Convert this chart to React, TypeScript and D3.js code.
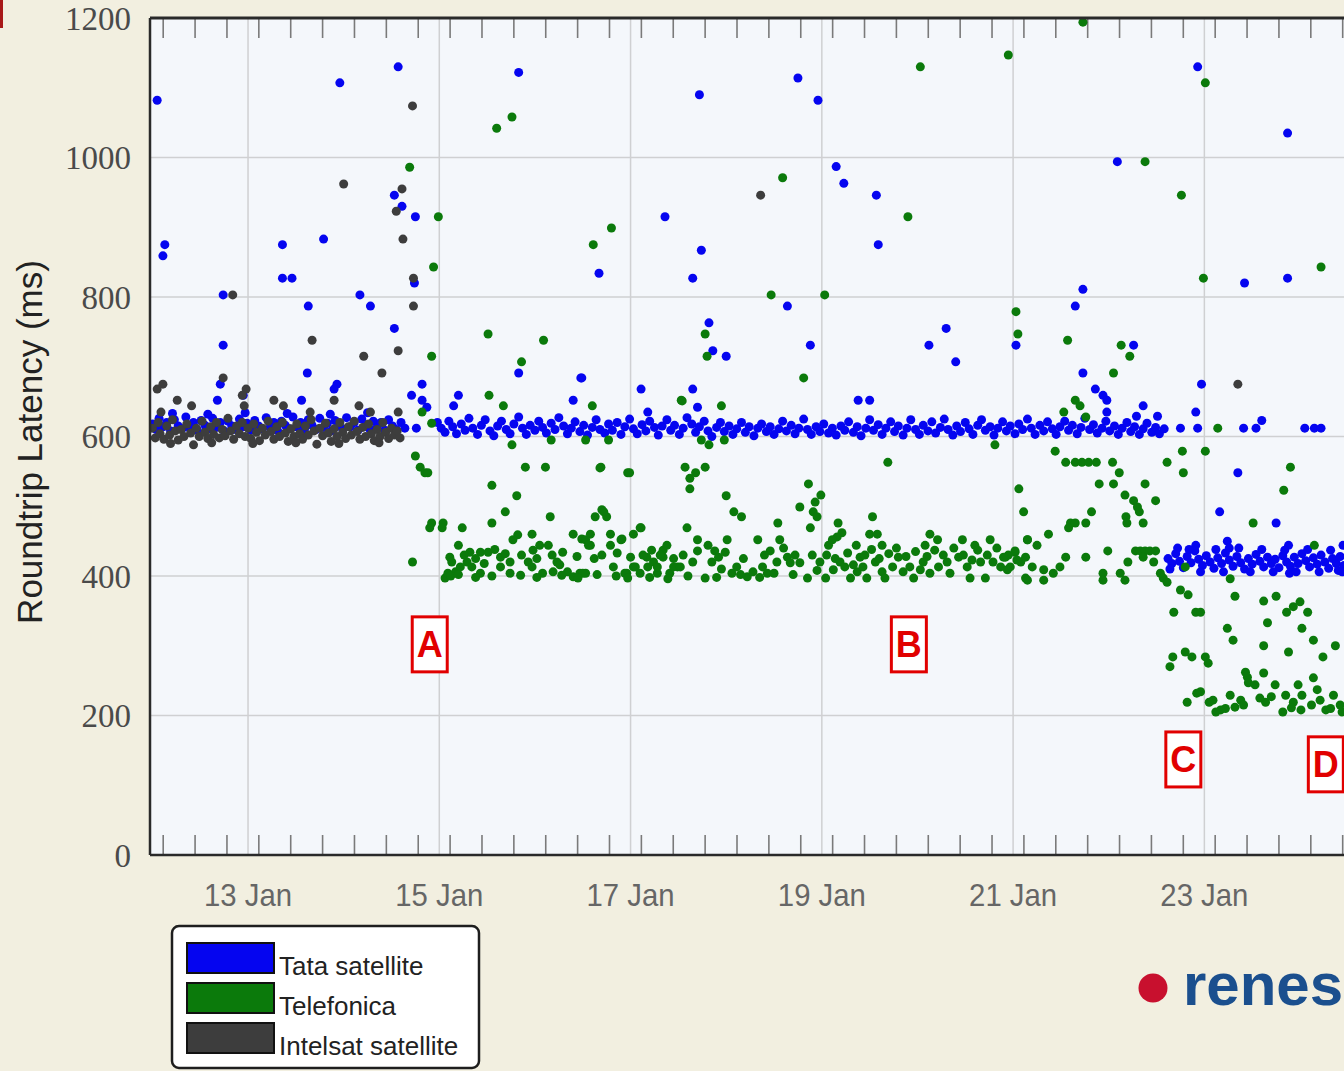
import React from "react";
import * as d3 from "d3";

const W = 1344;
const H = 1071;

type P = [number, number];

// ---- axis content ----
const yTickValues = [0, 200, 400, 600, 800, 1000, 1200];
const yGridValues = [200, 400, 600, 800, 1000];
const xLabelDays = [13, 15, 17, 19, 21, 23];
const xLabelText = ["13 Jan", "15 Jan", "17 Jan", "19 Jan", "21 Jan", "23 Jan"];
const xGridDays = [13, 15, 17, 19, 21, 23];
const minorTickStart = 12.113; // first 8-hour tick (day of January)
const minorTickStep = 1 / 3;
const xDomain: [number, number] = [11.975, 24.46];
const yDomain: [number, number] = [0, 1200];

// ---- legend ----
const seriesNames = ["Tata satellite", "Telefonica", "Intelsat satellite"];
const seriesColors = ["#0505f0", "#0b7a0b", "#3d3d3d"];

// ---- annotations ----
const annoLabels = ["A", "B", "C", "D"];
const annoDays = [14.9, 19.91, 22.78, 24.27];
const annoValues = [302, 302, 137, 130];

// ---- Tata satellite (blue) ----
const tataOutliers: P[] = [
  [12.05, 1082], [13.96, 1107], [14.57, 1130], [15.83, 1122], [12.13, 875], [12.11, 859],
  [13.36, 875], [13.79, 883], [13.36, 827], [13.46, 827], [12.74, 803], [13.63, 787],
  [14.17, 803], [14.28, 787], [14.53, 946], [14.61, 930], [14.75, 915], [14.74, 820],
  [12.74, 731], [14.53, 755], [13.62, 691], [12.71, 675], [13.93, 675], [13.9, 668],
  [12.68, 652], [12.95, 659], [13.56, 652], [14.82, 675], [14.71, 659], [14.82, 652],
  [15.2, 659], [15.15, 644], [15.83, 691], [16.48, 684], [16.4, 652], [14.76, 612],
  [14.87, 642], [14.6, 620], [14.64, 612],
  [17.72, 1090], [18.75, 1114], [18.96, 1082], [19.15, 987], [19.23, 963], [19.57, 946],
  [17.36, 915], [17.74, 867], [19.59, 875], [16.67, 834], [17.65, 827], [18.64, 787],
  [17.82, 763], [17.86, 723], [18.0, 715], [18.88, 731], [20.12, 731], [20.3, 755],
  [20.4, 707], [21.03, 731], [16.49, 684], [17.11, 668], [17.65, 668], [19.38, 652],
  [19.5, 652], [17.7, 642], [17.18, 635],
  [22.93, 1130], [23.87, 1035], [22.09, 994], [23.42, 820], [23.87, 827], [21.73, 811],
  [21.65, 787], [21.73, 691], [22.26, 731], [22.97, 675], [21.86, 668], [21.94, 659],
  [21.98, 652], [22.36, 644], [22.91, 635], [22.29, 629], [22.51, 629], [21.98, 635],
  [23.35, 548], [23.16, 492], [23.75, 476],
  [22.75, 612], [22.93, 612], [23.41, 612], [23.54, 612], [23.6, 623], [24.05, 612],
  [24.15, 612], [24.22, 612],
];

const tataBandEarly: P[] = [
  [12.0, 618], [12.04, 610], [12.07, 626], [12.11, 614], [12.15, 620], [12.19, 608],
  [12.23, 624], [12.27, 615], [12.31, 611], [12.35, 628], [12.39, 612], [12.43, 620],
  [12.47, 609], [12.51, 623], [12.55, 616], [12.59, 611], [12.63, 626], [12.67, 613],
  [12.71, 620], [12.75, 608], [12.79, 622], [12.83, 615], [12.87, 610], [12.91, 625],
  [12.95, 614], [12.99, 619], [13.03, 609], [13.07, 623], [13.11, 615], [13.15, 611],
  [13.19, 627], [13.23, 613], [13.27, 620], [13.31, 608], [13.35, 622], [13.39, 616],
  [13.43, 611], [13.47, 628], [13.51, 614], [13.55, 620], [13.59, 610], [13.63, 624],
  [13.67, 616], [13.71, 610], [13.75, 626], [13.79, 613], [13.83, 619], [13.87, 608],
  [13.91, 623], [13.95, 615], [13.99, 611], [14.03, 627], [14.07, 614], [14.11, 620],
  [14.15, 609], [14.19, 625], [14.23, 616], [14.27, 611], [14.31, 622], [14.35, 613],
  [14.39, 620], [14.43, 609], [14.47, 624], [14.51, 615], [14.55, 610],
  [12.21, 633], [12.58, 632], [12.97, 634], [13.41, 633], [13.86, 632], [14.25, 634],
];

const tataBandMid: P[] = [
  [14.98, 620], [15.02, 612], [15.06, 606], [15.1, 622], [15.14, 614], [15.18, 604],
  [15.23, 618], [15.27, 609], [15.31, 626], [15.35, 612], [15.4, 603], [15.44, 616],
  [15.48, 624], [15.53, 608], [15.57, 601], [15.61, 615], [15.65, 622], [15.7, 610],
  [15.74, 604], [15.78, 618], [15.83, 628], [15.87, 612], [15.91, 603], [15.95, 616],
  [16.0, 609], [16.04, 622], [16.08, 613], [16.12, 605], [16.17, 619], [16.21, 610],
  [16.25, 627], [16.3, 615], [16.34, 604], [16.38, 612], [16.42, 621], [16.47, 607],
  [16.51, 616], [16.55, 602], [16.6, 613], [16.64, 624], [16.68, 610], [16.73, 605],
  [16.77, 618], [16.81, 609], [16.86, 620], [16.9, 603], [16.94, 614], [16.99, 625],
  [17.03, 611], [17.07, 604], [17.12, 617], [17.16, 608], [17.2, 622], [17.25, 613],
  [17.29, 602], [17.33, 615], [17.38, 624], [17.42, 609], [17.46, 616], [17.51, 603],
  [17.55, 612], [17.59, 627], [17.64, 618], [17.68, 606], [17.72, 614], [17.77, 622],
  [17.81, 608], [17.85, 600], [17.9, 613], [17.94, 620], [17.98, 607], [18.03, 615],
  [18.07, 603], [18.11, 611], [18.16, 620], [18.2, 606], [18.24, 614], [18.29, 601],
  [18.33, 612], [18.37, 618], [18.42, 607], [18.46, 614], [18.5, 603], [18.55, 611],
  [18.59, 622], [18.63, 608], [18.68, 616], [18.72, 604], [18.76, 612], [18.81, 625],
  [18.85, 610], [18.89, 603], [18.94, 614], [18.98, 607], [19.02, 618], [19.07, 605],
  [19.11, 612], [19.15, 602], [19.2, 615], [19.24, 609], [19.28, 621], [19.33, 606],
  [19.37, 614], [19.41, 601], [19.46, 612], [19.5, 624], [19.54, 609], [19.59, 617],
  [19.63, 603], [19.67, 612], [19.72, 621], [19.76, 607], [19.8, 615], [19.85, 602],
  [19.89, 612], [19.93, 624], [19.98, 610], [20.02, 603], [20.06, 616], [20.11, 608],
  [20.15, 621], [20.19, 605], [20.24, 613], [20.28, 625], [20.32, 610], [20.37, 602],
  [20.41, 615], [20.45, 607], [20.5, 620], [20.54, 611], [20.58, 603], [20.63, 616],
  [20.67, 624], [20.71, 609], [20.76, 614], [20.8, 602], [20.84, 612], [20.89, 621],
  [20.93, 608], [20.97, 615], [21.02, 604], [21.06, 618], [21.1, 610], [21.15, 625],
  [21.19, 612], [21.23, 603], [21.28, 616], [21.32, 608], [21.36, 621], [21.41, 611],
  [21.45, 603], [21.49, 614], [21.54, 622], [21.58, 609], [21.62, 616], [21.67, 604],
  [21.71, 613], [21.75, 626], [21.8, 610], [21.84, 617], [21.88, 605], [21.93, 612],
  [21.97, 622], [22.01, 608], [22.06, 615], [22.1, 603], [22.14, 612], [22.19, 620],
  [22.23, 607], [22.27, 614], [22.32, 603], [22.36, 611], [22.4, 619], [22.45, 606],
  [22.49, 613], [22.53, 604], [22.58, 611],
];

const tataBandLate: P[] = [
  [22.62, 425], [22.66, 418], [22.7, 432], [22.74, 421], [22.78, 412], [22.82, 428],
  [22.86, 419], [22.9, 436], [22.94, 424], [22.98, 415], [23.02, 429], [23.06, 420],
  [23.1, 411], [23.14, 426], [23.18, 418], [23.22, 433], [23.26, 423], [23.3, 414],
  [23.34, 428], [23.38, 419], [23.42, 410], [23.46, 425], [23.5, 417], [23.54, 431],
  [23.58, 421], [23.62, 413], [23.66, 427], [23.7, 418], [23.74, 424], [23.78, 412],
  [23.82, 429], [23.86, 420], [23.9, 414], [23.94, 427], [23.98, 418], [24.02, 432],
  [24.06, 422], [24.1, 413], [24.14, 426], [24.18, 417], [24.22, 430], [24.26, 420],
  [24.3, 411], [24.34, 425], [24.38, 418], [24.42, 428], [24.46, 415],
  [22.91, 444], [23.24, 450], [23.26, 440], [23.88, 444], [24.45, 444], [23.89, 404],
  [24.4, 408],
  [22.64, 410], [22.72, 440], [22.84, 438], [22.96, 406], [23.12, 438], [23.2, 406],
  [23.36, 440], [23.48, 406], [23.6, 438], [23.72, 406], [23.84, 437], [23.96, 406],
  [24.08, 438], [24.2, 406], [24.32, 437], [24.44, 406],
];

// ---- Telefonica (green) ----
const telefonicaScatter: P[] = [
  [14.69, 986], [14.99, 915], [14.94, 843], [14.92, 715], [14.82, 635], [14.92, 619],
  [14.75, 572], [14.8, 556], [14.85, 548], [14.88, 548],
  [15.6, 1042], [15.76, 1058], [15.51, 747], [16.09, 738], [15.86, 707], [15.52, 659],
  [15.67, 644], [15.76, 588], [16.17, 595], [16.53, 595], [16.77, 595], [16.61, 875],
  [16.8, 899], [16.6, 644],
  [15.55, 530], [15.81, 515], [15.69, 492], [15.55, 476], [15.9, 556], [16.11, 556],
  [16.16, 485], [16.68, 555], [16.97, 548], [16.7, 495], [16.63, 485], [16.75, 485],
  [17.57, 556], [17.62, 540], [17.62, 525], [17.68, 548], [17.54, 651], [16.72, 492],
  [20.03, 1130], [20.95, 1147], [18.59, 971], [19.9, 915], [18.47, 803], [19.03, 803],
  [21.03, 779], [21.05, 747], [17.78, 747], [17.8, 715], [18.81, 684], [17.95, 644],
  [17.53, 652], [17.74, 595], [17.82, 588], [17.98, 595], [20.81, 588],
  [16.69, 556], [16.99, 548], [17.78, 556], [18.0, 515], [18.08, 492], [18.16, 485],
  [19.69, 563], [18.86, 532], [18.99, 516], [18.93, 506], [18.77, 499], [18.91, 492],
  [18.95, 485], [18.88, 469], [21.06, 525], [21.11, 492], [18.54, 476], [19.17, 476],
  [19.53, 485],
  [21.73, 1194], [23.01, 1107], [22.38, 994], [22.76, 946], [22.99, 827], [24.22, 843],
  [21.57, 738], [22.13, 731], [22.22, 715], [22.05, 691], [21.65, 652], [21.7, 644],
  [21.76, 628], [21.53, 635], [23.14, 612],
  [21.44, 579], [21.55, 563], [21.65, 563], [21.72, 563], [21.79, 563], [21.87, 563],
  [22.04, 563], [22.11, 548], [21.9, 532], [22.05, 532], [22.38, 532], [22.17, 516],
  [22.26, 508], [22.3, 499], [22.32, 492], [22.49, 508], [22.18, 485], [22.19, 476],
  [22.36, 476], [22.61, 563], [22.77, 579], [22.78, 548], [23.01, 579], [21.6, 476],
  [21.65, 476], [21.76, 476], [21.82, 492], [21.58, 469],
  [23.9, 556], [23.83, 523], [23.51, 476], [24.15, 444],
];

const telefonicaBand: P[] = [
  [14.72, 420], [14.92, 476], [14.9, 469], [15.04, 476], [15.03, 469], [15.24, 469],
  [15.82, 459], [15.77, 452], [15.97, 460], [16.4, 460], [16.49, 453], [16.58, 460],
  [16.58, 444], [16.79, 460], [16.91, 453], [17.03, 460], [17.1, 469], [16.79, 444],
  [17.59, 469], [17.7, 436], [17.7, 452],
  [15.2, 444], [15.11, 427], [15.32, 434], [15.43, 434], [15.51, 434], [15.64, 427],
  [15.74, 420], [15.06, 397], [15.09, 404], [15.17, 406], [15.22, 413], [15.29, 420],
  [15.34, 413], [15.43, 404], [15.64, 413], [15.74, 404], [15.93, 420], [15.97, 413],
  [16.08, 404], [15.98, 437], [16.05, 444], [16.14, 444], [16.29, 434], [16.23, 420],
  [16.19, 406], [16.34, 406], [16.4, 399], [16.47, 404], [16.53, 404], [16.82, 413],
  [16.96, 404], [17.03, 413], [17.1, 404], [17.18, 413], [17.24, 420], [17.34, 437],
  [17.38, 444], [17.41, 404], [17.39, 396], [17.49, 413], [17.28, 404], [17.17, 427],
  [19.21, 462], [19.16, 456], [19.5, 460], [19.58, 460], [20.13, 460], [20.21, 452],
  [16.53, 452], [16.56, 444], [16.9, 452], [17.11, 469], [17.81, 444], [17.88, 436],
  [18.01, 452], [17.92, 427], [17.99, 434], [18.33, 452], [18.56, 452], [18.46, 436],
  [18.64, 427], [19.07, 444], [19.11, 452], [19.36, 444], [19.4, 427], [19.63, 444],
  [20.08, 444], [20.47, 452], [20.6, 444], [20.76, 452], [21.02, 434], [21.15, 452],
  [16.5, 404], [16.94, 404], [16.97, 397], [17.05, 413], [17.28, 413], [17.34, 427],
  [17.45, 413], [17.52, 413], [17.78, 397], [18.06, 404], [18.11, 413], [18.22, 399],
  [18.28, 406], [18.38, 413], [18.43, 404], [18.53, 420], [18.67, 419], [18.77, 419],
  [18.85, 397], [18.98, 420], [19.04, 397], [19.12, 409], [19.19, 420], [19.24, 413],
  [19.3, 397], [19.37, 406], [19.43, 413], [19.47, 397], [19.56, 420], [19.63, 406],
  [19.66, 397], [19.74, 413], [19.8, 427], [19.85, 406], [19.92, 413], [19.96, 397],
  [20.06, 420], [20.13, 404], [20.22, 413], [20.31, 420], [20.34, 404], [20.43, 427],
  [20.52, 413], [20.55, 397], [20.66, 420], [20.71, 397], [20.79, 420], [20.87, 413],
  [20.92, 427], [20.97, 413], [21.08, 420], [21.13, 397],
  [19.05, 430], [19.14, 425], [19.27, 433], [19.33, 416], [19.45, 430], [19.52, 438],
  [19.6, 425], [19.7, 432], [19.78, 440], [19.88, 428], [19.98, 435], [20.03, 409],
  [20.1, 428], [20.18, 437], [20.27, 430], [20.38, 440], [20.48, 430], [20.57, 423],
  [20.63, 437], [20.73, 430], [20.83, 440], [20.95, 430], [21.04, 423],
  [15.13, 420], [15.26, 430], [15.38, 425], [15.47, 418], [15.58, 438], [15.69, 432],
  [15.86, 430], [16.02, 425], [16.18, 430], [16.26, 416], [16.44, 428], [16.62, 425],
  [16.7, 430], [16.86, 433], [17.0, 427], [17.13, 430], [17.22, 437], [17.31, 430],
  [17.45, 425], [17.55, 430], [17.65, 420], [17.85, 420], [17.95, 410], [18.18, 425],
  [18.4, 430], [18.6, 440], [18.72, 430], [18.9, 430], [18.95, 408],
  [15.12, 400], [15.2, 402], [15.38, 398], [15.55, 400], [15.85, 401], [16.02, 398],
  [16.28, 401], [16.45, 397], [16.65, 402], [16.85, 400], [17.2, 398], [17.6, 400],
  [17.9, 398], [18.15, 402], [18.35, 398], [18.5, 404], [18.7, 402],
  [21.37, 460], [21.25, 444], [21.15, 452], [21.02, 436], [21.55, 427], [21.76, 427],
  [21.99, 436], [22.2, 420], [22.28, 436], [22.33, 436], [22.38, 436], [22.43, 436],
  [22.49, 436], [22.36, 427], [22.47, 420], [22.54, 404], [20.9, 427], [20.94, 409],
  [21.13, 427], [21.2, 413], [21.32, 409], [21.42, 404], [21.15, 394], [21.32, 394],
  [21.94, 404], [21.94, 394], [22.12, 404], [22.17, 394], [21.49, 413], [22.8, 413],
  [22.57, 397], [22.61, 391],
];

const telefonicaLow: P[] = [
  [22.75, 380], [22.83, 373], [22.68, 348], [22.91, 348], [22.96, 348], [22.67, 284],
  [22.64, 270], [22.8, 291], [22.87, 284], [23.01, 284], [23.04, 275], [23.27, 396],
  [23.32, 371], [23.24, 325], [23.3, 308], [23.62, 364], [23.75, 371], [23.66, 333],
  [23.62, 300], [23.86, 348], [23.93, 356], [24.0, 363], [24.08, 348], [24.02, 325],
  [24.14, 308], [24.24, 284], [24.37, 300], [23.88, 291],
  [22.82, 219], [22.96, 234], [23.09, 222], [23.17, 208], [23.27, 229], [23.38, 222],
  [23.45, 255], [23.46, 247], [23.53, 244], [23.62, 261], [23.64, 219], [23.74, 244],
  [23.82, 205], [23.85, 229], [23.93, 219], [23.98, 244], [24.02, 229], [24.14, 254],
  [24.18, 237], [24.21, 222], [24.27, 208], [24.35, 229], [24.42, 215], [23.43, 262],
  [22.92, 232], [23.05, 219], [23.12, 205], [23.22, 210], [23.32, 212], [23.41, 215],
  [23.58, 225], [23.7, 227], [23.91, 211], [24.01, 208], [24.12, 215], [24.32, 210],
  [24.44, 205],
];

// ---- Intelsat satellite (dark grey) ----
const intelsatOutliers: P[] = [
  [14.72, 1074], [14.0, 962], [14.61, 955], [14.55, 923], [14.62, 883], [14.73, 827],
  [14.73, 787], [13.67, 738], [14.21, 715], [14.57, 723], [14.4, 691], [12.11, 675],
  [12.05, 668], [12.74, 684], [12.98, 668], [12.94, 659], [12.26, 652], [12.41, 644],
  [13.27, 652], [13.37, 644], [12.96, 644], [13.9, 652], [14.16, 644], [14.28, 635],
  [12.09, 635], [13.65, 635], [14.57, 635], [12.84, 803], [18.36, 946], [23.35, 675],
];

const intelsatBand: P[] = [
  [12.0, 612], [12.03, 598], [12.06, 620], [12.08, 604], [12.12, 596], [12.15, 615],
  [12.18, 602], [12.21, 624], [12.24, 608], [12.27, 595], [12.3, 610], [12.33, 600],
  [12.36, 618], [12.4, 605], [12.43, 588], [12.46, 612], [12.49, 600], [12.52, 622],
  [12.55, 606], [12.58, 597], [12.61, 614], [12.64, 603], [12.67, 620], [12.7, 598],
  [12.73, 610], [12.76, 601], [12.79, 626], [12.82, 608], [12.85, 596], [12.88, 615],
  [12.91, 604], [12.94, 620], [12.97, 600], [13.0, 612], [13.03, 597], [13.06, 618],
  [13.09, 606], [13.12, 594], [13.15, 612], [13.18, 602], [13.21, 622], [13.24, 607],
  [13.27, 596], [13.3, 614], [13.33, 600], [13.36, 620], [13.39, 605], [13.42, 593],
  [13.45, 611], [13.48, 600], [13.51, 618], [13.54, 604], [13.57, 596], [13.6, 615],
  [13.63, 602], [13.66, 624], [13.69, 608], [13.72, 589], [13.75, 612], [13.78, 601],
  [13.81, 619], [13.84, 605], [13.87, 593], [13.9, 611], [13.93, 600], [13.96, 620],
  [13.99, 606], [14.02, 597], [14.05, 614], [14.08, 602], [14.11, 622], [14.14, 607],
  [14.17, 596], [14.2, 613], [14.23, 600], [14.26, 618], [14.29, 604], [14.32, 594],
  [14.35, 610], [14.38, 600], [14.41, 620], [14.44, 606], [14.47, 597], [14.5, 612],
  [14.53, 602], [14.56, 608], [14.59, 598],
  [12.19, 590], [12.62, 591], [13.05, 590], [13.5, 591], [13.95, 590], [14.37, 591],
];

const tataAll: P[] = [...tataBandEarly, ...tataBandMid, ...tataBandLate, ...tataOutliers];
const telefonicaAll: P[] = [...telefonicaBand, ...telefonicaScatter, ...telefonicaLow];
const intelsatAll: P[] = [...intelsatBand, ...intelsatOutliers];

export default function App() {
  const plotLeft = 150;
  const plotTop = 18;
  const plotBottom = 855;
  const plotRight = 1344;
  const x = d3.scaleLinear().domain(xDomain).range([plotLeft, plotRight]);
  const y = d3.scaleLinear().domain(yDomain).range([plotBottom, plotTop]);
  const minorTicks = d3.range(minorTickStart, xDomain[1], minorTickStep);
  const seriesData = [tataAll, telefonicaAll, intelsatAll];
  const r = 4.5;

  return (
    <div style={{ position: "absolute", left: 0, top: 0 }}>
      <svg width={W} height={H} style={{ display: "block" }}>
        <defs>
          <clipPath id="plotClip">
            <rect x={plotLeft} y={plotTop} width={plotRight - plotLeft} height={plotBottom - plotTop} />
          </clipPath>
        </defs>
        <rect x={0} y={0} width={W} height={H} fill="#f2efe0" />
        <rect x={0} y={0} width={3} height={28} fill="#a81818" />
        <rect x={plotLeft} y={plotTop} width={plotRight - plotLeft} height={plotBottom - plotTop} fill="#f4f7fb" />

        {/* grid */}
        {yGridValues.map((v) => (
          <line key={"gy" + v} x1={plotLeft} x2={plotRight} y1={y(v)} y2={y(v)} stroke="#cfd0d2" strokeWidth={1.5} />
        ))}
        {xGridDays.map((d) => (
          <line key={"gx" + d} x1={x(d)} x2={x(d)} y1={plotTop} y2={plotBottom} stroke="#cfd0d2" strokeWidth={1.5} />
        ))}

        {/* minor ticks top & bottom */}
        {minorTicks.map((t, i) => (
          <g key={"mt" + i}>
            <line x1={x(t)} x2={x(t)} y1={plotTop} y2={plotTop + 20} stroke="#7a7a7a" strokeWidth={1.6} />
            <line x1={x(t)} x2={x(t)} y1={plotBottom - 20} y2={plotBottom} stroke="#7a7a7a" strokeWidth={1.6} />
          </g>
        ))}

        {/* points */}
        <g clipPath="url(#plotClip)">
          {seriesData.map((data, si) => (
            <g key={"s" + si} fill={seriesColors[si]}>
              {data.map((p, i) => (
                <circle key={i} cx={x(p[0])} cy={y(p[1])} r={r} />
              ))}
            </g>
          ))}
        </g>

        {/* frame */}
        <line x1={plotLeft} x2={plotRight} y1={plotTop} y2={plotTop} stroke="#2a2a2a" strokeWidth={3} />
        <line x1={plotLeft} x2={plotLeft} y1={plotTop} y2={plotBottom} stroke="#2a2a2a" strokeWidth={2.5} />
        <line x1={plotLeft} x2={plotRight} y1={plotBottom} y2={plotBottom} stroke="#2a2a2a" strokeWidth={2.5} />

        {/* y tick labels */}
        {yTickValues.map((v) => (
          <text key={"yl" + v} x={131} y={y(v)} dy="0.35em" textAnchor="end"
            fontFamily="'Liberation Serif', 'DejaVu Serif', serif" fontSize={33} fill="#4a4a4a">
            {v}
          </text>
        ))}

        {/* x labels */}
        {xLabelDays.map((d, i) => (
          <text key={"xl" + d} x={x(d)} y={906} textAnchor="middle"
            fontFamily="'Liberation Sans', Arial, sans-serif" fontSize={32} fill="#666"
            textLength={88} lengthAdjust="spacingAndGlyphs">
            {xLabelText[i]}
          </text>
        ))}

        {/* y axis title */}
        <text transform="translate(42,442) rotate(-90)" textAnchor="middle"
          fontFamily="'Liberation Sans', Arial, sans-serif" fontSize={35} fill="#222">
          Roundtrip Latency (ms)
        </text>

        {/* annotations */}
        {annoLabels.map((lab, i) => (
          <g key={"an" + lab} transform={`translate(${x(annoDays[i])},${y(annoValues[i])})`}>
            <rect x={-17.5} y={-27.5} width={35} height={55} fill="#ffffff" stroke="#e10000" strokeWidth={3} />
            <text x={0} y={13} textAnchor="middle" fontFamily="'Liberation Sans', Arial, sans-serif"
              fontWeight="bold" fontSize={36} fill="#e10000">
              {lab}
            </text>
          </g>
        ))}

        {/* legend */}
        <rect x={172} y={926} width={307} height={142} rx={7} fill="#ffffff" stroke="#1e1e1e" strokeWidth={2.5} />
        {seriesNames.map((name, i) => (
          <g key={"lg" + i}>
            <rect x={187} y={943 + i * 40} width={87} height={30} fill={seriesColors[i]} stroke="#111" strokeWidth={2} />
            <text x={279} y={975 + i * 40} fontFamily="'Liberation Sans', Arial, sans-serif" fontSize={26} fill="#222">
              {name}
            </text>
          </g>
        ))}

        {/* logo (cut off at the right edge, as in the reference) */}
        <circle cx={1153} cy={988} r={14.5} fill="#c8102e" />
        <text x={1183} y={1005} fontFamily="'Liberation Sans', Arial, sans-serif" fontWeight="bold"
          fontSize={60} fill="#1b4f8e">
          renesas
        </text>
      </svg>
    </div>
  );
}
